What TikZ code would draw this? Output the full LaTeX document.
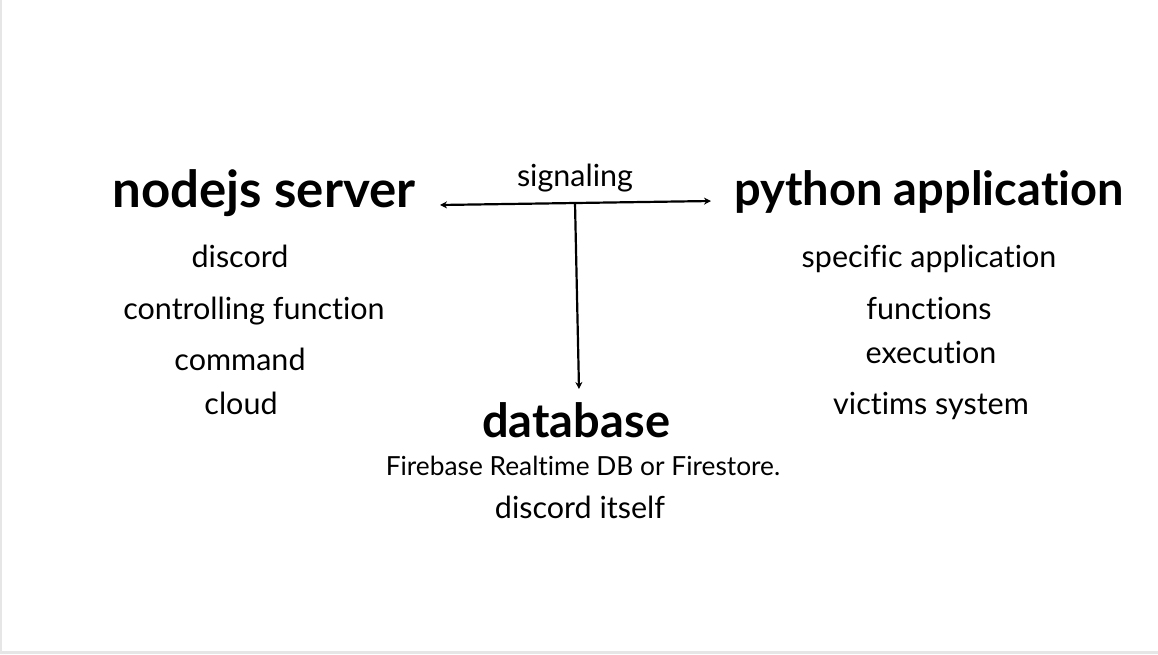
\documentclass[tikz,border=0pt]{standalone}
\usepackage{fontspec}
\setmainfont{Lato}[Ligatures=NoCommon]
\usetikzlibrary{arrows.meta}
\definecolor{edge}{HTML}{E6E6E6}
\tikzset{
  title/.style={anchor=base, inner sep=0pt, font=\fontsize{#1}{56}\selectfont\bfseries},
  title/.default=47.5,
  item/.style={anchor=base, inner sep=0pt, font=\fontsize{30.5}{36}\selectfont},
  small/.style={anchor=base, inner sep=0pt, font=\fontsize{26.3}{31}\selectfont},
  link/.style={line width=2.2pt, -{Stealth[length=7pt,width=7pt]}},
}
\begin{document}
\begin{tikzpicture}[x=1pt,y=-1pt]
\fill[edge] (0,0) rectangle (1158,654);
\fill[white] (2,0) rectangle (1158,651);
\useasboundingbox (0,0) rectangle (1158,654);

\node[title=51] (node) at (264,207) {nodejs server};
\node[title=47] (py) at (929,205) {python application};
\node[title=47] (db) at (576,437) {database};
\node[item] (sig) at (575,186) {signaling};

\node[item] (n1) at (240,267) {discord};
\node[item] (n2) at (254,319) {controlling function};
\node[item] (n3) at (240,370) {command};
\node[item] (n4) at (241,414) {cloud};

\node[item] (p1) at (929,267) {specific application};
\node[item] (p2) at (929,319) {functions};
\node[item] (p3) at (931,363) {execution};
\node[item] (p4) at (931,414) {victims system};

\node[small] (d1) at (583,475) {Firebase Realtime DB or Firestore.};
\node[item] (d2) at (580,518) {discord itself};

\coordinate (L) at (440,205);
\coordinate (R) at (711,201);
\coordinate (J) at (575,203);
\coordinate (B) at (579,389);
\draw[link, {Stealth[length=7pt,width=7pt]}-{Stealth[length=7pt,width=7pt]}] (L) -- (R);
\draw[link] (J) -- (B);
\end{tikzpicture}
\end{document}
